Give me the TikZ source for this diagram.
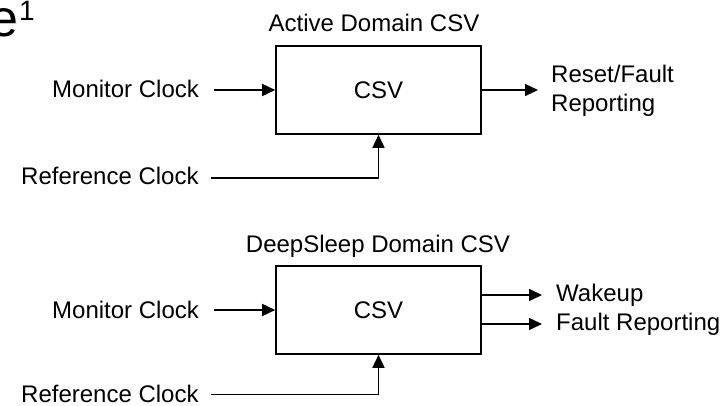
\documentclass[tikz,border=0pt]{standalone}
\usepackage{fontspec}
\setmainfont{Liberation Sans}
\usetikzlibrary{arrows.meta}
\begin{document}
\begin{tikzpicture}[x=1pt,y=-1pt,
  lbl/.style={inner sep=0pt, font=\fontsize{24}{29}\selectfont},
  csvbox/.style={draw, line width=1.6pt, minimum width=205pt, minimum height=88pt, inner sep=0pt, font=\fontsize{24}{29}\selectfont},
  arr/.style={line width=1.6pt, -{Triangle[length=13pt,width=12pt]}}]
\useasboundingbox (0,0) rectangle (725,406);
\clip (0,0) rectangle (725,406);
% heading fragment
\node[inner sep=0pt, font=\fontsize{52}{60}\selectfont, anchor=base east] (bige) at (19,37) {e};
\node[inner sep=0pt, font=\fontsize{28}{32}\selectfont, anchor=base west] (sup1) at (19,21) {1};
% Active domain
\node[lbl, anchor=base] (t1) at (374,32) {Active Domain CSV};
\node[csvbox] (box1) at (378.5,90) {CSV};
\node[lbl, anchor=base west] (mon1) at (52,98) {Monitor Clock};
\node[lbl, anchor=base west] (ref1) at (21,185) {Reference Clock};
\node[lbl, anchor=west, align=left] (rst) at (551,91) {Reset/Fault\\Reporting};
\draw[arr] ([xshift=15pt]mon1.east |- box1.west) -- (box1.west);
\draw[arr] ([xshift=12pt,yshift=-1.5pt]ref1.east) -| (box1.south);
\draw[arr] (box1.east) -- ([xshift=-13pt]rst.west |- box1.east);
% DeepSleep domain
\node[lbl, anchor=base] (t2) at (378,252) {DeepSleep Domain CSV};
\node[csvbox] (box2) at (378.5,310) {CSV};
\node[lbl, anchor=base west] (mon2) at (52,318) {Monitor Clock};
\node[lbl, anchor=base west] (ref2) at (21,402) {Reference Clock};
\node[lbl, anchor=west] (wake) at (556,295) {Wakeup};
\node[lbl, anchor=west] (fault) at (556,324) {Fault Reporting};
\draw[arr] ([xshift=15pt]mon2.east |- box2.west) -- (box2.west);
\draw[arr] ([xshift=12pt,yshift=-1pt]ref2.east) -| (box2.south);
\draw[arr] (box2.east |- wake.west) -- ([xshift=-14pt]wake.west);
\draw[arr] (box2.east |- fault.west) -- ([xshift=-14pt]fault.west);
\end{tikzpicture}
\end{document}
